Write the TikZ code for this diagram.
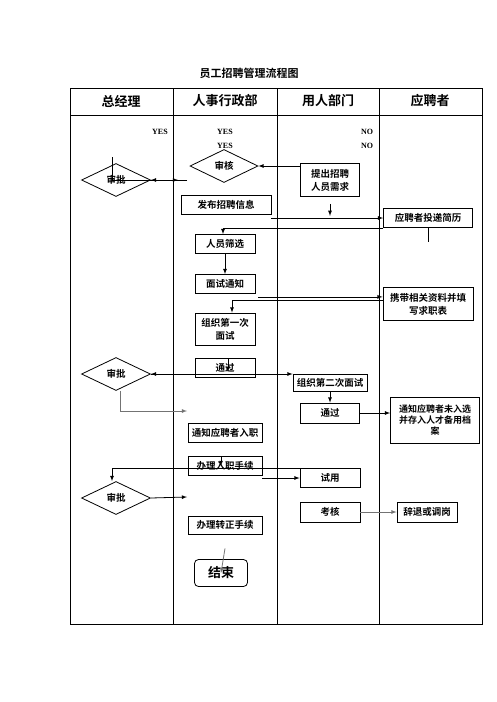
\documentclass[tikz,border=0pt]{standalone}
\usepackage{fontspec}
\setmainfont{Noto Sans CJK SC}[BoldFont={Noto Sans CJK SC Bold}]
\newfontfamily\romanfont{Liberation Serif}
\usepackage{tikz}
\usetikzlibrary{arrows,shapes}

\tikzset{
  box/.style={draw=black,line width=0.8pt,inner sep=0pt,align=center,
    font=\fontsize{9.5}{13}\selectfont\bfseries},
  dia/.style={draw=black,line width=0.8pt,diamond,aspect=2,inner sep=0pt,
    minimum width=69pt,minimum height=33pt,font=\fontsize{9.5}{13}\selectfont\bfseries},
  arr/.style={->,>=latex,line width=0.8pt},
  yn/.style={font=\romanfont\fontsize{8}{8}\selectfont\bfseries},
  head/.style={font=\fontsize{13}{13}\selectfont\bfseries}
}

\begin{document}
\begin{tikzpicture}[x=1pt,y=-1pt]
            \useasboundingbox (0,0) rectangle (496,702);
            % swim lanes
            \draw[line width=0.8pt] (70,88) rectangle (482,624);
            \draw[line width=0.8pt] (70,115) -- (482,115);
            \foreach \x in {173,277,379}
            \draw[line width=0.8pt] (\x,88) -- (\x,624);
            \node[font=\fontsize{11}{11}\selectfont\bfseries] (title) at (249,73) {员工招聘管理流程图};
            \foreach \x/\t [count=\i] in {121/总经理,225/人事行政部,328/用人部门,430/应聘者}
            \node[head] (h\i) at (\x,101) {\t};
            \node[yn] (yes1) at (160,132) {YES};
            \node[yn] (yes2) at (225,132) {YES};
            \node[yn] (yes3) at (225,146) {YES};
            \node[yn] (no1) at (367,132) {NO};
            \node[yn] (no2) at (367,146) {NO};
            % nodes
            \node[dia] (ap1) at (116,180) {审批};
            \node[dia] (ap2) at (116,374) {审批};
            \node[dia] (ap3) at (116,498) {审批};
            \node[dia,minimum width=68pt] (chk) at (224,166) {审核};
            \node[box,minimum width=59pt,minimum height=33pt] (req) at (330,180) {提出招聘\\人员需求};
            \node[box,minimum width=90pt,minimum height=19pt] (pub) at (226,205) {发布招聘信息};
            \node[box,minimum width=89pt,minimum height=19pt] (cv) at (428,218) {应聘者投递简历};
            \node[box,minimum width=60pt,minimum height=19pt] (scr) at (225,244) {人员筛选};
            \node[box,minimum width=60pt,minimum height=19pt] (ntc) at (225,284) {面试通知};
            \node[box,minimum width=90pt,minimum height=33pt] (bring) at (428,304) {携带相关资料并填\\写求职表};
            \node[box,minimum width=60pt,minimum height=32pt] (fst) at (225,329) {组织第一次\\面试};
            \node[box,minimum width=60pt,minimum height=19pt] (pas) at (225,368) {通过};
            \node[box,minimum width=74pt,minimum height=17pt] (sec) at (330,383) {组织第二次面试};
            \node[box,minimum width=59pt,minimum height=20pt] (pas2) at (330,413) {通过};
            \node[box,minimum width=89pt,minimum height=46pt,font=\fontsize{9}{11}\selectfont\bfseries] (fail) at (435,420) {通知应聘者未入选\\并存入人才备用档\\案};
            \node[box,minimum width=74pt,minimum height=19pt] (ntf) at (225,433) {通知应聘者入职};
            \node[box,minimum width=74pt,minimum height=19pt] (onb) at (225,466) {办理入职手续};
            \node[box,minimum width=60pt,minimum height=19pt] (try) at (330,478) {试用};
            \node[box,minimum width=60pt,minimum height=20pt] (eva) at (330,512) {考核};
            \node[box,minimum width=60pt,minimum height=20pt] (quit) at (427,512) {辞退或调岗};
            \node[box,minimum width=74pt,minimum height=18pt] (reg) at (225,525) {办理转正手续};
            \node[box,rounded corners=4pt,minimum width=53pt,minimum height=27pt,
              font=\fontsize{13}{13}\selectfont\bfseries] (end) at (221,573) {结束};
            % free ends
            \coordinate (y1) at (112,157);
            \coordinate (e0) at (187,180);
            \coordinate (e1) at (187,411);
            \coordinate (e2) at (187,497);
            \coordinate (a1) at ([xshift=3pt,yshift=-3pt]ntc.south east);
            % connectors
            \draw[arr] (y1) |- ([xshift=-9pt]e0);
            \draw[arr] (e0) -- (ap1.east);
            \draw[arr] (req.west |- chk.east) -- (chk.east);
            \draw[arr] ([yshift=-7pt]req.south) -- ([yshift=-19pt]req.south);
            \draw[arr] (pub.south east |- cv.west) -- (cv.west);
            \draw[arr] (cv.south west) -| ([xshift=-2pt]scr.north);
            \draw[line width=0.8pt] (cv.south) -- ++(0,14);
            \draw[arr] (scr) -- (ntc);
            \draw[arr] (a1) -- (a1 -| bring.west);
            \draw[arr] ([yshift=4pt]bring.west) -| ([xshift=7pt]fst.north);
            \draw[arr] ([xshift=3pt]pas.north) -- ([xshift=3pt,yshift=-4pt]pas.center);
            \draw[arr] ([xshift=-9pt]ap2.east -| sec.west) -- (ap2.east);
            \draw[arr] (ap2.east) -- (ap2.east -| sec.west);
            \draw[arr,black!55] ([xshift=4pt]ap2.south) |- (e1);
            \draw[arr] (sec) -- (pas2);
            \draw[arr] (pas2.east) -- (pas2.east -| fail.west);
            \draw[arr] ([xshift=-4pt]onb.north) -- ([xshift=-4pt]onb.center);
            \draw[arr] (try.north west) -| ([xshift=-4pt]ap3.north);
            \draw[arr] (onb.south east |- try.west) -- (try.west);
            \draw[arr] (ap3.east) -- (e2);
            \draw[arr,black!55] (eva.east) -- (quit.west);
            \draw[arr,black!55] ([yshift=-14pt]reg.south) -- (end.center);
      \end{tikzpicture}
\end{document}
